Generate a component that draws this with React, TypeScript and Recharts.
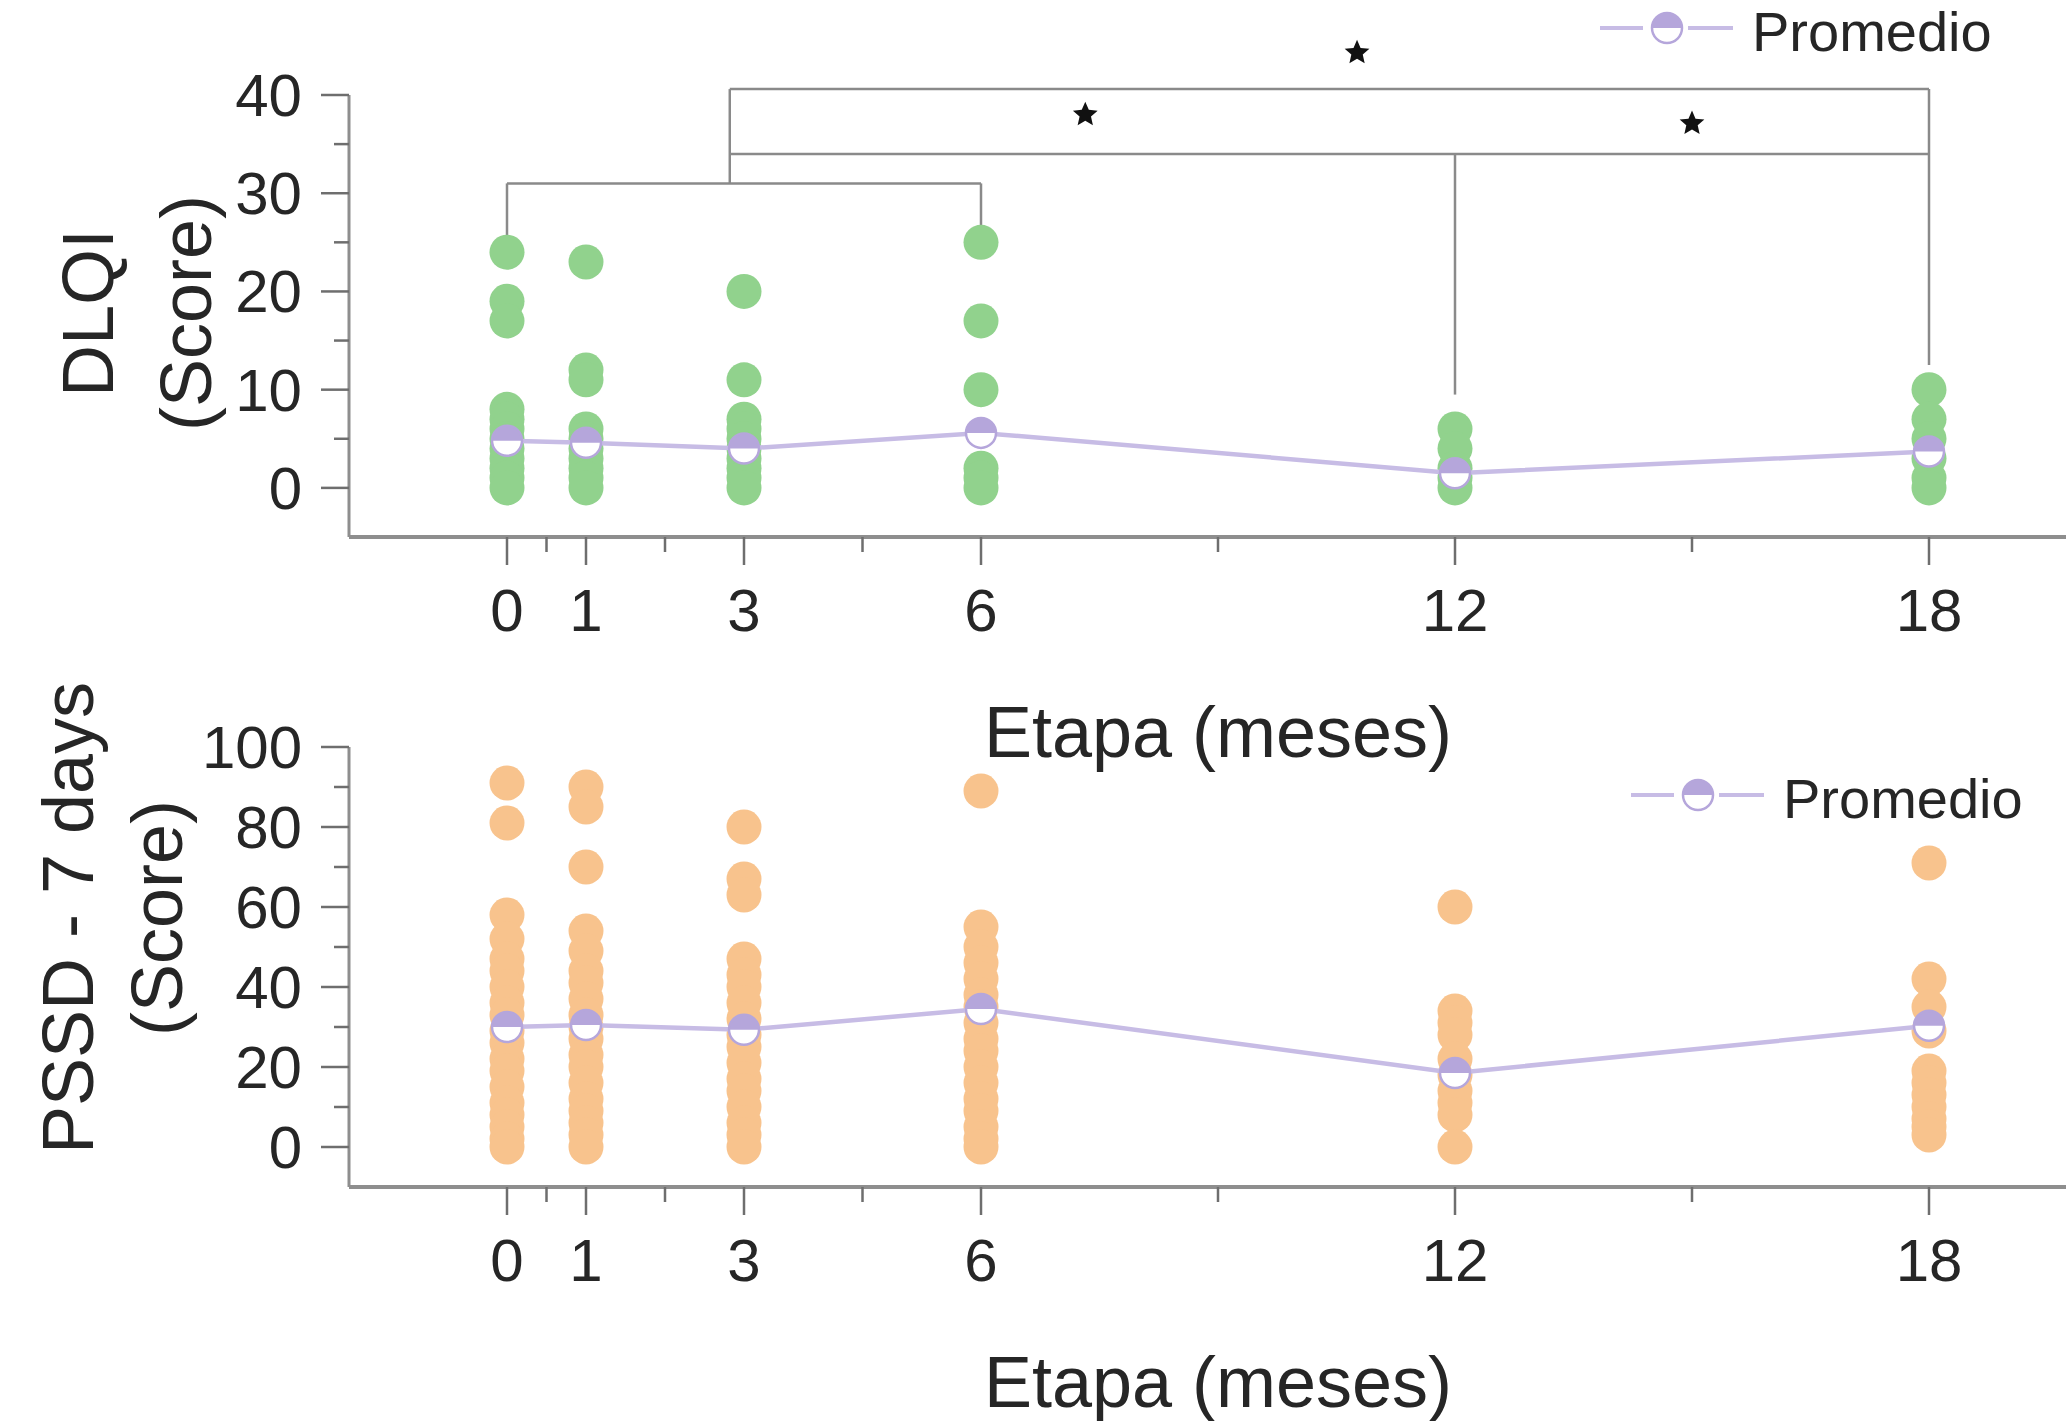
import React from "react"
import { ScatterChart, Scatter, XAxis, YAxis, ReferenceLine, ReferenceDot, Legend } from "recharts"

// time points (months) and axis ticks
const months = [0, 1, 3, 6, 12, 18]
const xMajorTicks = [0, 1, 3, 6, 12, 18]
const xMinorTicks = [0.5, 2, 4.5, 9, 15]

// DLQI individual scores per month
const dlqiM0 = [24, 19, 17, 8, 7, 6, 5, 4, 3, 2, 1, 0]
const dlqiM1 = [23, 12, 11, 6, 5, 4, 3, 2, 1, 0]
const dlqiM3 = [20, 11, 7, 6, 5, 4, 3, 2, 1, 0]
const dlqiM6 = [25, 17, 10, 2, 1, 0]
const dlqiM12 = [6, 4, 2, 1, 0]
const dlqiM18 = [10, 7, 5, 3, 1, 0]
const dlqiMean = [4.8, 4.6, 4.0, 5.6, 1.5, 3.7]

// PSSD - 7 days individual scores per month
const pssdM0 = [91, 81, 58, 52, 47, 44, 40, 36, 33, 29, 26, 22, 19, 15, 11, 8, 5, 2, 0]
const pssdM1 = [90, 85, 70, 54, 49, 44, 41, 37, 33, 30, 27, 23, 20, 16, 12, 9, 6, 3, 0]
const pssdM3 = [80, 67, 63, 47, 43, 40, 36, 32, 28, 25, 21, 17, 14, 10, 6, 3, 0]
const pssdM6 = [89, 55, 50, 46, 42, 38, 35, 31, 27, 24, 20, 16, 12, 9, 5, 2, 0]
const pssdM12 = [60, 34, 31, 28, 22, 18, 14, 11, 8, 0]
const pssdM18 = [71, 42, 35, 29, 19, 16, 13, 10, 7, 5, 3]
const pssdMean = [30, 30.5, 29.3, 34.5, 18.5, 30.3]

const dlqiTicks = [0, 5, 10, 15, 20, 25, 30, 35, 40]
const dlqiMajor = [0, 10, 20, 30, 40]
const pssdTicks = [0, 10, 20, 30, 40, 50, 60, 70, 80, 90, 100]
const pssdMajor = [0, 20, 40, 60, 80, 100]

// significance brackets on the DLQI panel (data coords)
const bracketSegments = [
  [{ x: 0, y: 25.5 }, { x: 0, y: 31 }],
  [{ x: 0, y: 31 }, { x: 6, y: 31 }],
  [{ x: 6, y: 31 }, { x: 6, y: 26.4 }],
  [{ x: 2.82, y: 31 }, { x: 2.82, y: 40.6 }],
  [{ x: 2.82, y: 40.6 }, { x: 18, y: 40.6 }],
  [{ x: 18, y: 40.6 }, { x: 18, y: 12.5 }],
  [{ x: 2.82, y: 34 }, { x: 18, y: 34 }],
  [{ x: 12, y: 34 }, { x: 12, y: 9.5 }],
]
const stars = [
  { x: 10.76, y: 44.3 },
  { x: 7.32, y: 38 },
  { x: 15, y: 37.1 },
]

const FONT = "'Liberation Sans', Arial, Helvetica, sans-serif"
const TEXT = "#262626"
const AXIS = "#8e8e8e"
const TICK = "#6e6e6e"
const GREEN = "#91d28d"
const ORANGE = "#f8c38d"
const LAVENDER = "#c7bce5"
const MARK = "#b5a6db"

const toPoints = (cols: number[][]) => months.flatMap((m, i) => cols[i].map((v) => ({ x: m, y: v })))
const dlqiPoints = toPoints([dlqiM0, dlqiM1, dlqiM3, dlqiM6, dlqiM12, dlqiM18])
const pssdPoints = toPoints([pssdM0, pssdM1, pssdM3, pssdM6, pssdM12, pssdM18])
const dlqiMeanPoints = months.map((m, i) => ({ x: m, y: dlqiMean[i] }))
const pssdMeanPoints = months.map((m, i) => ({ x: m, y: pssdMean[i] }))

function MeanMarker({ cx, cy }: any) {
  const r = 15
  return (
    <g>
      <circle cx={cx} cy={cy} r={r} fill="#fff" />
      <path d={`M${cx - r},${cy} A${r},${r} 0 0 1 ${cx + r},${cy} Z`} fill={MARK} />
      <circle cx={cx} cy={cy} r={r} fill="none" stroke={MARK} strokeWidth={2.5} />
    </g>
  )
}

const dot = (color: string) => ({ cx, cy }: any) => <circle cx={cx} cy={cy} r={17.5} fill={color} />

function StarShape({ cx, cy }: any) {
  const pts = []
  for (let i = 0; i < 10; i++) {
    const rad = i % 2 === 0 ? 13 : 6
    const a = -Math.PI / 2 + (i * Math.PI) / 5
    pts.push(`${cx + rad * Math.cos(a)},${cy + rad * Math.sin(a)}`)
  }
  return <polygon points={pts.join(" ")} fill="#111" />
}

function XTick({ x, y, payload }: any) {
  const major = xMajorTicks.includes(payload.value)
  return (
    <g>
      <line x1={x} y1={y} x2={x} y2={y + (major ? 28 : 15)} stroke={TICK} strokeWidth={2.5} />
      {major && (
        <text x={x} y={y + 94} textAnchor="middle" fontSize={60} fill={TEXT} fontFamily={FONT}>
          {payload.value}
        </text>
      )}
    </g>
  )
}

const yTick = (majors: number[]) => ({ x, y, payload }: any) => {
  const major = majors.includes(payload.value)
  return (
    <g>
      <line x1={x - (major ? 28 : 15)} y1={y} x2={x} y2={y} stroke={TICK} strokeWidth={2.5} />
      {major && (
        <text x={x - 47} y={y + 21} textAnchor="end" fontSize={60} fill={TEXT} fontFamily={FONT}>
          {payload.value}
        </text>
      )}
    </g>
  )
}

function XTitle({ viewBox }: any) {
  return (
    <text x={viewBox.x + viewBox.width / 2} y={viewBox.y + 220} textAnchor="middle" fontSize={72} fill={TEXT} fontFamily={FONT}>
      Etapa (meses)
    </text>
  )
}

function YTitle({ viewBox, lines, xs, dy }: any) {
  const cy = viewBox.y + viewBox.height / 2 + dy
  return (
    <g>
      {lines.map((t: string, i: number) => (
        <text
          key={t}
          x={xs[i]}
          y={cy}
          transform={`rotate(-90 ${xs[i]} ${cy})`}
          textAnchor="middle"
          dominantBaseline="central"
          fontSize={72}
          fill={TEXT}
          fontFamily={FONT}
        >
          {t}
        </text>
      ))}
    </g>
  )
}

function MeanLegend() {
  return (
    <svg width={470} height={62} style={{ display: "block", overflow: "visible" }}>
      <line x1={10} y1={28} x2={53} y2={28} stroke={LAVENDER} strokeWidth={4} />
      <line x1={98} y1={28} x2={143} y2={28} stroke={LAVENDER} strokeWidth={4} />
      <MeanMarker cx={77} cy={28} />
      <text x={162} y={51} fontSize={56} fill={TEXT} fontFamily={FONT}>
        Promedio
      </text>
    </svg>
  )
}

export default function App() {
  return (
    <div style={{ position: "absolute", left: 0, top: 0, width: 2066, height: 1421, overflow: "hidden", background: "#fff" }}>
      {/* DLQI panel */}
      <div style={{ position: "absolute", left: 0, top: 0 }}>
        <ScatterChart width={2100} height={780} margin={{ top: 95, right: 13, bottom: 0, left: 0 }}>
          <XAxis
            type="number"
            dataKey="x"
            domain={[-2, 20]}
            ticks={[...xMajorTicks, ...xMinorTicks]}
            interval={0}
            tick={<XTick />}
            tickLine={false}
            tickSize={0}
            tickMargin={0}
            height={243}
            axisLine={{ stroke: AXIS, strokeWidth: 4 }}
            label={<XTitle />}
          />
          <YAxis
            type="number"
            dataKey="y"
            domain={[-5, 40]}
            ticks={dlqiTicks}
            interval={0}
            tick={yTick(dlqiMajor)}
            tickLine={false}
            tickSize={0}
            tickMargin={0}
            width={349}
            axisLine={{ stroke: AXIS, strokeWidth: 3 }}
            label={<YTitle lines={["DLQI", "(Score)"]} xs={[88, 186]} dy={-3} />}
          />
          {bracketSegments.map((seg, i) => (
            <ReferenceLine key={`b-${i}`} segment={seg} stroke="#8a8a8a" strokeWidth={2.5} ifOverflow="visible" />
          ))}
          {stars.map((s, i) => (
            <ReferenceDot key={`s-${i}`} x={s.x} y={s.y} r={13} shape={<StarShape />} ifOverflow="visible" />
          ))}
          <Scatter data={dlqiPoints} shape={dot(GREEN)} isAnimationActive={false} />
          <Scatter
            name="Promedio"
            data={dlqiMeanPoints}
            line={{ stroke: LAVENDER, strokeWidth: 4.5 }}
            lineType="joint"
            shape={<MeanMarker />}
            isAnimationActive={false}
          />
          <Legend
            layout="horizontal"
            verticalAlign="middle"
            align="center"
            content={<MeanLegend />}
            wrapperStyle={{ left: 1590, top: 0, width: 470, height: 62 }}
          />
        </ScatterChart>
      </div>

      {/* PSSD panel */}
      <div style={{ position: "absolute", left: 0, top: 640 }}>
        <ScatterChart width={2100} height={781} margin={{ top: 107, right: 13, bottom: 0, left: 0 }}>
          <XAxis
            type="number"
            dataKey="x"
            domain={[-2, 20]}
            ticks={[...xMajorTicks, ...xMinorTicks]}
            interval={0}
            tick={<XTick />}
            tickLine={false}
            tickSize={0}
            tickMargin={0}
            height={234}
            axisLine={{ stroke: AXIS, strokeWidth: 4 }}
            label={<XTitle />}
          />
          <YAxis
            type="number"
            dataKey="y"
            domain={[-10, 100]}
            ticks={pssdTicks}
            interval={0}
            tick={yTick(pssdMajor)}
            tickLine={false}
            tickSize={0}
            tickMargin={0}
            width={349}
            axisLine={{ stroke: AXIS, strokeWidth: 3 }}
            label={<YTitle lines={["PSSD - 7 days", "(Score)"]} xs={[68, 157]} dy={-49} />}
          />
          <Scatter data={pssdPoints} shape={dot(ORANGE)} isAnimationActive={false} />
          <Scatter
            name="Promedio"
            data={pssdMeanPoints}
            line={{ stroke: LAVENDER, strokeWidth: 4.5 }}
            lineType="joint"
            shape={<MeanMarker />}
            isAnimationActive={false}
          />
          <Legend
            layout="horizontal"
            verticalAlign="middle"
            align="center"
            content={<MeanLegend />}
            wrapperStyle={{ left: 1621, top: 127, width: 470, height: 62 }}
          />
        </ScatterChart>
      </div>
    </div>
  )
}
